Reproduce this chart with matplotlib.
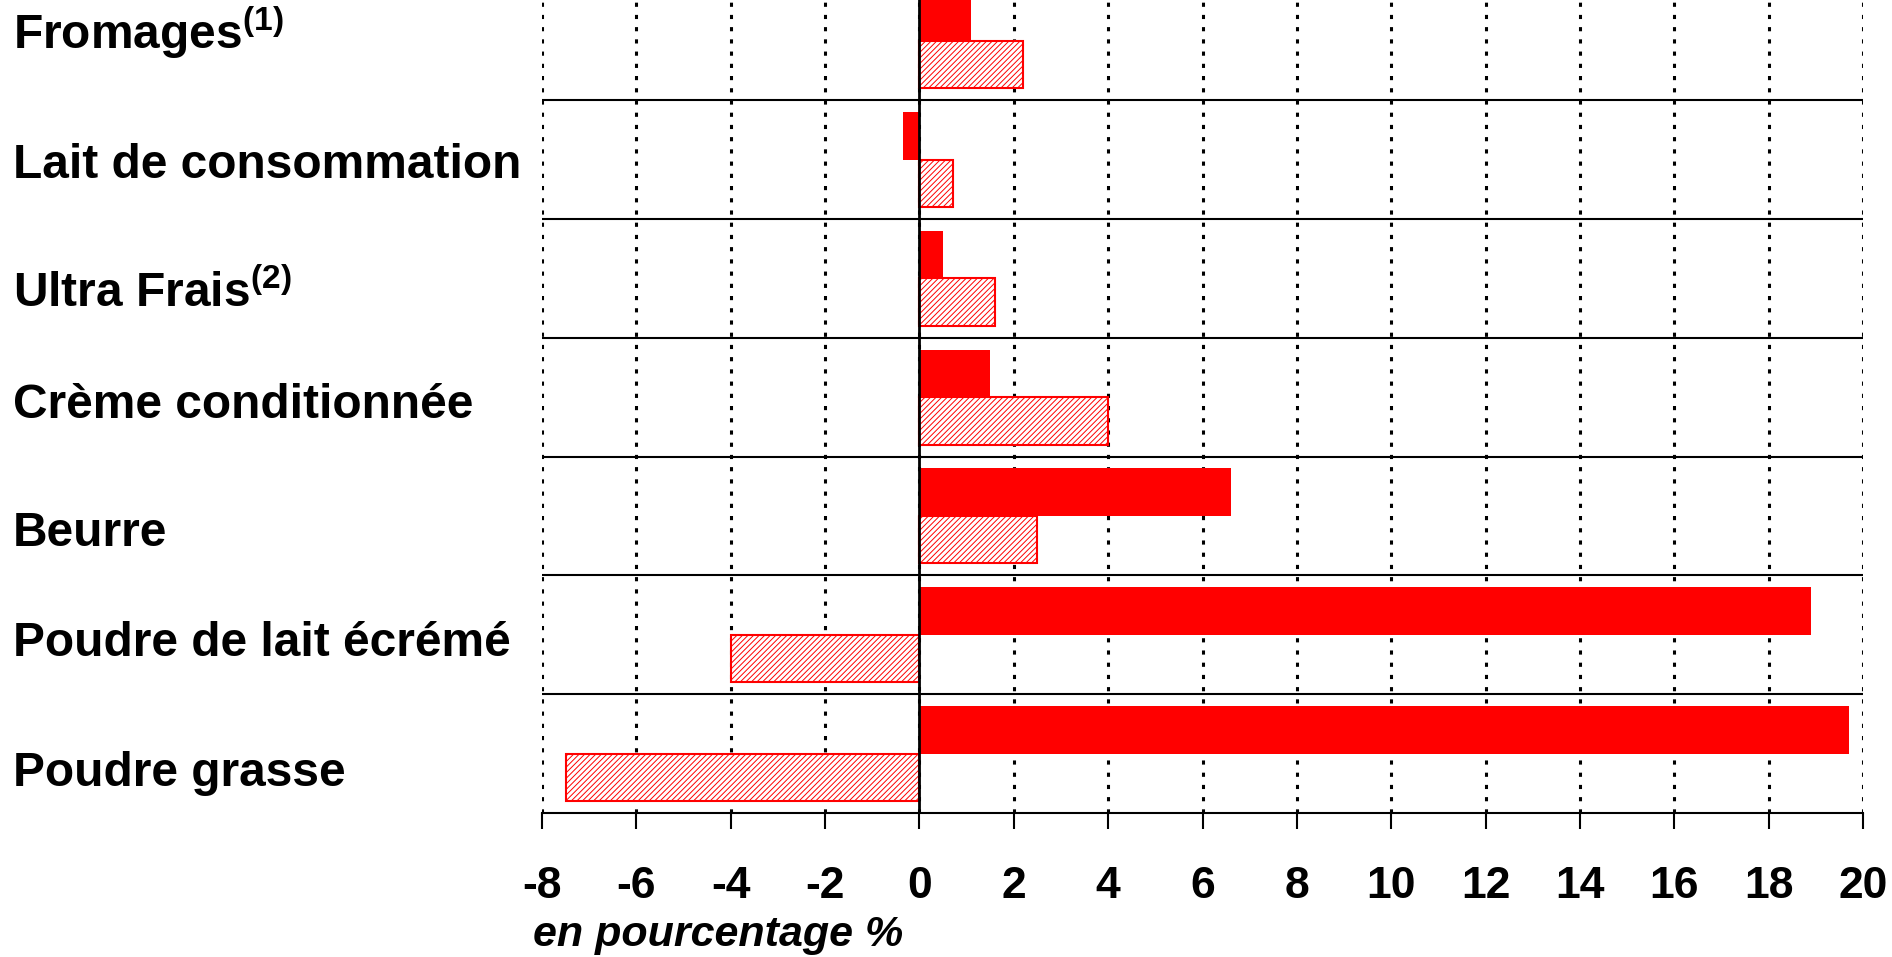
import matplotlib
matplotlib.use("Agg")
import matplotlib.pyplot as plt
import matplotlib.transforms as mtransforms
import numpy as np

categories = ["Fromages$^{\\mathbf{(1)}}$", "Lait de consommation", "Ultra Frais$^{\\mathbf{(2)}}$",
              "Crème conditionnée", "Beurre", "Poudre de lait écrémé", "Poudre grasse"]
series_solid = [1.1, -0.35, 0.5, 1.5, 6.6, 18.9, 19.7]
series_hatched = [2.2, 0.7, 1.6, 4.0, 2.5, -4.0, -7.5]
xticks = [-8, -6, -4, -2, 0, 2, 4, 6, 8, 10, 12, 14, 16, 18, 20]
xtick_labels = [str(v) for v in xticks]
xlabel = "en pourcentage %"

plt.rcParams['font.family'] = ['Liberation Sans', 'DejaVu Sans']
plt.rcParams['mathtext.fontset'] = 'custom'
plt.rcParams['mathtext.rm'] = 'Liberation Sans:bold'
plt.rcParams['mathtext.bf'] = 'Liberation Sans:bold'
plt.rcParams['hatch.linewidth'] = 0.7
plt.rcParams['lines.scale_dashes'] = False

fig = plt.figure(figsize=(18.92, 9.57), dpi=100)
ax = fig.add_axes([0.2865, 0.1505, 0.9847 - 0.2865, 1.0195 - 0.1505])

y = np.arange(len(categories))
h = 0.4
ax.barh(y - h / 2, series_solid, height=h, color='#FF0000', edgecolor='none', zorder=2)
ax.barh(y + h / 2, series_hatched, height=h, facecolor='white', edgecolor='#FF0000',
        hatch='//////', linewidth=1.5, zorder=2)

ax.set_xlim(-8, 20)
ax.set_ylim(len(categories) - 0.5, -0.5)

# separators between categories
for b in np.arange(-0.5, len(categories) - 0.5, 1.0):
    ax.axhline(b, color='black', lw=1.5, zorder=1.8)
ax.axvline(0, color='black', lw=2.0, zorder=3)

ax.set_axisbelow(True)
ax.grid(axis='x', color='black', linestyle=(0, (3.0, 5.8)), lw=2.2)
ax.grid(axis='y', visible=False)

for s in ['left', 'right', 'top']:
    ax.spines[s].set_visible(False)
ax.spines['bottom'].set_linewidth(1.5)

ax.set_yticks([])
ax.set_xticks(xticks)
ax.set_xticklabels(xtick_labels, fontsize=32, fontweight='bold')
ax.tick_params(axis='x', direction='out', length=11.5, width=1.5, pad=27)

# category labels
baseline_offsets_pt = [5.6, 13.0, 20.4, 14.8, 21.3, 15.6, 23.0]
for i, (lab, off) in enumerate(zip(categories, baseline_offsets_pt)):
    trans = mtransforms.blended_transform_factory(fig.transFigure, ax.transData)
    trans = trans + mtransforms.ScaledTranslation(0, -off / 72, fig.dpi_scale_trans)
    fig.text(13 / 1892, y[i], lab, transform=trans, fontsize=34.5, fontweight='bold',
             ha='left', va='baseline')

fig.text(533 / 1892, 0.023, xlabel, fontsize=31, fontweight='bold', fontstyle='italic',
         ha='left', va='center')

fig.savefig('out.png', dpi=100)
